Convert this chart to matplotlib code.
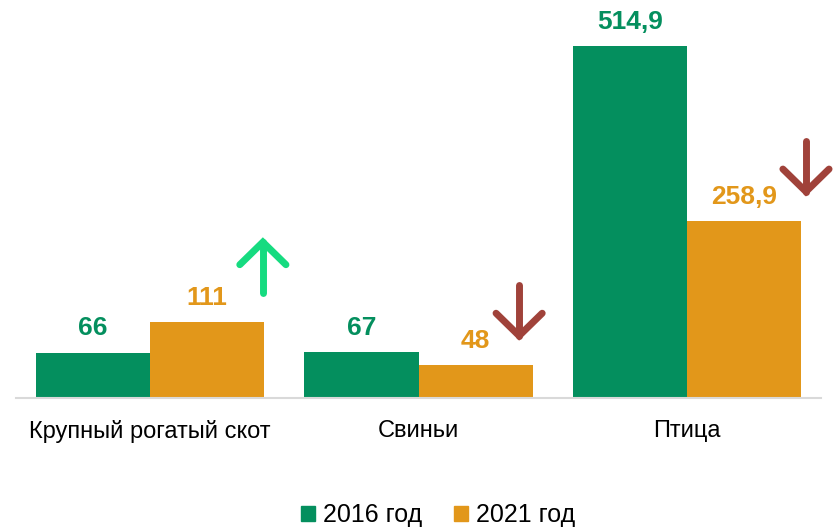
import numpy as np
import matplotlib.pyplot as plt
from matplotlib.patches import Patch

categories = ["Крупный рогатый скот", "Свиньи", "Птица"]
series_names = ["2016 год", "2021 год"]
v2016 = [66, 67, 514.9]
v2021 = [111, 48, 258.9]
labels2016 = ["66", "67", "514,9"]
labels2021 = ["111", "48", "258,9"]

green = "#048F5E"
orange = "#E2971A"
up_col = "#16DB80"
down_col = "#A0423A"

plt.rcParams['font.family'] = ['Liberation Sans', 'DejaVu Sans']

W, H = 836, 528
fig = plt.figure(figsize=(W / 100, H / 100), dpi=100)
ax = fig.add_axes([16 / W, (H - 398) / H, (821 - 16) / W, (398 - 10) / H])

x = np.arange(len(categories))
w = 0.425
ax.bar(x - w / 2, v2016, w, color=green)
ax.bar(x + w / 2, v2021, w, color=orange)

for i in range(len(categories)):
    ax.annotate(labels2016[i], (x[i] - w / 2, v2016[i]), xytext=(0, 9),
                textcoords="offset points", ha="center", va="bottom",
                fontsize=19, fontweight="bold", color=green)
    ax.annotate(labels2021[i], (x[i] + w / 2, v2021[i]), xytext=(0, 9),
                textcoords="offset points", ha="center", va="bottom",
                fontsize=19, fontweight="bold", color=orange)

# trend arrows next to the 2021 bars
arrow_dx = [0.42, 0.375, 0.444]
for i in range(len(categories)):
    up = v2021[i] > v2016[i]
    col = up_col if up else down_col
    xc = x[i] + arrow_dx[i]
    yc = v2021[i] + 80
    half = 37
    wing_x = 0.086
    wing_y = 33
    if up:
        tip, tail = yc + half, yc - half
        wy = tip - wing_y
    else:
        tip, tail = yc - half, yc + half
        wy = tip + wing_y
    ax.plot([xc, xc], [tail, tip], color=col, lw=5, solid_capstyle="round", clip_on=False)
    ax.plot([xc - wing_x, xc, xc + wing_x], [wy, tip, wy], color=col, lw=5,
            solid_capstyle="round", solid_joinstyle="miter", clip_on=False)

ax.set_xlim(-0.5, 2.5)
ax.set_ylim(0, 388 / 0.6836)
ax.set_xticks(x)
ax.set_xticklabels(categories, fontsize=17)
ax.tick_params(axis="x", length=0, pad=16)
ax.set_yticks([])
for s in ["top", "right", "left"]:
    ax.spines[s].set_visible(False)
ax.spines["bottom"].set_color("#D9D9D9")
ax.spines["bottom"].set_linewidth(1.5)

handles = [Patch(color=green, label=series_names[0]),
           Patch(color=orange, label=series_names[1])]
fig.legend(handles=handles, loc="center", bbox_to_anchor=(438 / W, 1 - 515 / H),
           ncol=2, frameon=False, fontsize=18, handlelength=0.55, handleheight=0.55,
           handletextpad=0.3, columnspacing=1.3)

fig.savefig("out.png", dpi=100)
